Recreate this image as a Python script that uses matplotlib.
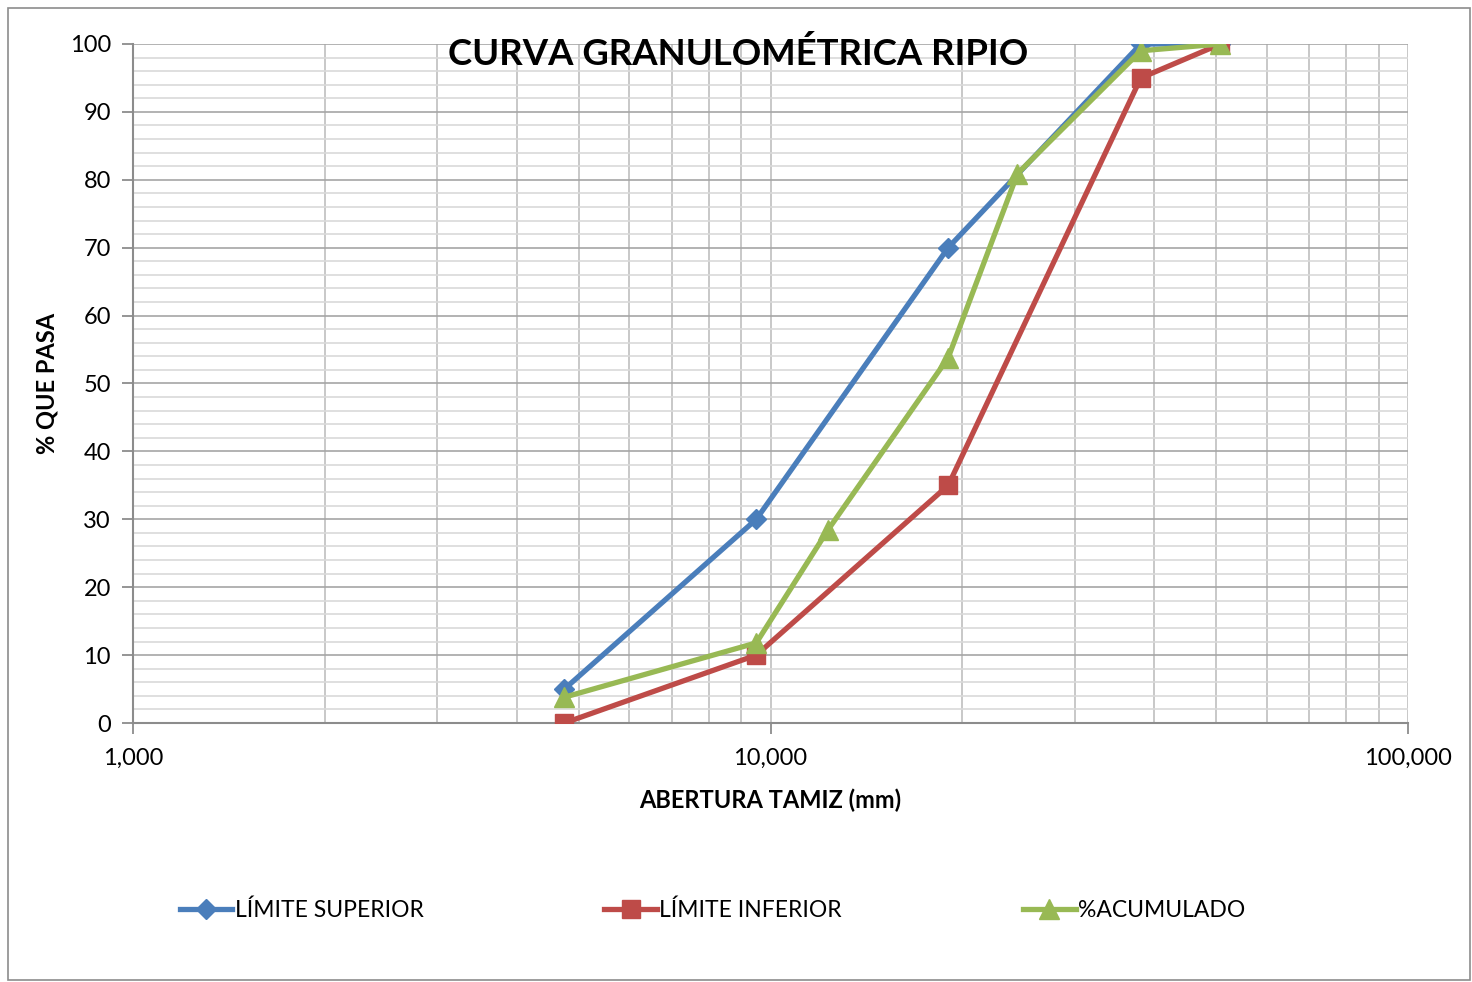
import numpy as np
import matplotlib.pyplot as plt
from matplotlib.ticker import FixedLocator, FuncFormatter, MultipleLocator
from matplotlib.patches import Rectangle

plt.rcParams["font.family"] = ["Lato", "DejaVu Sans"]

# sieve openings (mm x 1000 as plotted) and % passing
x_sup = [4750, 9500, 19000, 38100, 50800]
y_sup = [5, 30, 70, 100, 100]

x_inf = [4750, 9500, 19000, 38100, 50800]
y_inf = [0, 10, 35, 95, 100]

x_acum = [4750, 9500, 12300, 19000, 24400, 38100, 50800]
y_acum = [3.8, 11.8, 28.4, 53.8, 80.9, 99.0, 100]

blue = "#4A7EBB"
red = "#BE4B48"
green = "#98B954"

fig = plt.figure(figsize=(14.72, 9.82), dpi=100)
ax = fig.add_axes([133 / 1472, 1 - 723 / 982, (1408 - 133) / 1472, (723 - 44) / 982])

# outer chart border
fig.patches.append(Rectangle((8 / 1472, 2 / 982), 1462 / 1472, 972 / 982,
                             transform=fig.transFigure, fill=False,
                             edgecolor="#8c8c8c", lw=1.2))

ax.set_xscale("log")
ax.set_xlim(1000, 100000)
ax.set_ylim(0, 100)

ax.yaxis.set_major_locator(MultipleLocator(10))
ax.yaxis.set_minor_locator(MultipleLocator(2))
ax.xaxis.set_major_locator(FixedLocator([1000, 10000, 100000]))
minors = [m * d for d in (1000, 10000) for m in range(2, 10)]
ax.xaxis.set_minor_locator(FixedLocator(minors))
ax.xaxis.set_major_formatter(FuncFormatter(lambda v, p: f"{v:,.0f}"))
ax.xaxis.set_minor_formatter(FuncFormatter(lambda v, p: ""))

ax.grid(True, which="minor", axis="y", color="#d9d9d9", lw=1.2)
ax.grid(True, which="major", axis="y", color="#a6a6a6", lw=1.2)
ax.grid(True, which="both", axis="x", color="#bfbfbf", lw=1.2)
ax.set_axisbelow(True)

for s in ("top", "right"):
    ax.spines[s].set_visible(False)
for s in ("left", "bottom"):
    ax.spines[s].set_color("#8c8c8c")
    ax.spines[s].set_linewidth(1.5)

ax.tick_params(which="major", length=8, width=1.3, color="#8c8c8c",
               labelsize=17, pad=8)
ax.tick_params(which="minor", length=0)
ax.tick_params(axis="x", pad=10)

ax.plot(x_sup, y_sup, color=blue, lw=3.8, marker="D", ms=10,
        label="LÍMITE SUPERIOR", zorder=3)
ax.plot(x_inf, y_inf, color=red, lw=3.8, marker="s", ms=13,
        label="LÍMITE INFERIOR", zorder=3)
ax.plot(x_acum, y_acum, color=green, lw=3.8, marker="^", ms=14,
        label="%ACUMULADO", zorder=4)

fig.text(738 / 1472, 1 - 54 / 982, "CURVA GRANULOMÉTRICA RIPIO",
         ha="center", va="center", fontsize=26.3, fontweight="bold")

ax.set_xlabel("ABERTURA TAMIZ (mm)", fontsize=17, fontweight="bold", labelpad=14)
ax.set_ylabel("% QUE PASA", fontsize=17, fontweight="bold", labelpad=8)

fig.legend(loc="center", bbox_to_anchor=(0.484, 1 - 910 / 982), ncol=3,
           frameon=False, fontsize=16.5, handlelength=2.3, handletextpad=0.1,
           columnspacing=7.9)

fig.savefig("out.png", dpi=100, facecolor="white")
